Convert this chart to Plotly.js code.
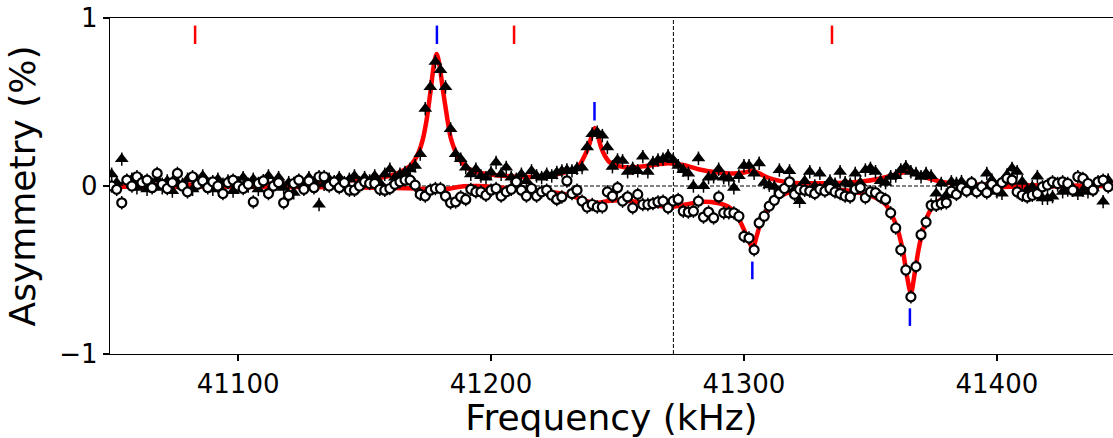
<!DOCTYPE html>
<html>
<head>
<meta charset="utf-8">
<script src="https://cdn.plot.ly/plotly-3.0.1.min.js"></script>
<style>html,body{margin:0;padding:0;background:#fff;}#chart{width:1113px;height:438px;}</style>
</head>
<body>
<div id="chart"></div>
<script>
// Frequencies (kHz) of the measured points
const freq = [
41050,41052,41054,41056,41058,41060,41062,41064,41066,41068,
41070,41072,41074,41076,41078,41080,41082,41084,41086,41088,
41090,41092,41094,41096,41098,41100,41102,41104,41106,41108,
41110,41112,41114,41116,41118,41120,41122,41124,41126,41128,
41130,41132,41134,41136,41138,41140,41142,41144,41146,41148,
41150,41152,41154,41156,41158,41160,41162,41164,41166,41168,
41170,41172,41174,41176,41178,41180,41182,41184,41186,41188,
41190,41192,41194,41196,41198,41200,41202,41204,41206,41208,
41210,41212,41214,41216,41218,41220,41222,41224,41226,41228,
41230,41232,41234,41236,41238,41240,41242,41244,41246,41248,
41250,41252,41254,41256,41258,41260,41262,41264,41266,41268,
41270,41272,41274,41276,41278,41280,41282,41284,41286,41288,
41290,41292,41294,41296,41298,41300,41302,41304,41306,41308,
41310,41312,41314,41316,41318,41320,41322,41324,41326,41328,
41330,41332,41334,41336,41338,41340,41342,41344,41346,41348,
41350,41352,41354,41356,41358,41360,41362,41364,41366,41368,
41370,41372,41374,41376,41378,41380,41382,41384,41386,41388,
41390,41392,41394,41396,41398,41400,41402,41404,41406,41408,
41410,41412,41414,41416,41418,41420,41422,41424,41426,41428,
41430,41432,41434,41436,41438,41440,41442,41444];

// Asymmetry (%) - filled triangles
const triAsym = [
0.07,0.02,0.16,0.03,0.04,-0.01,0.03,-0.02,0.01,0.04,
-0.01,0.03,-0.03,0.02,0.01,0.04,-0.02,0.03,0.06,0.01,
-0.02,0.04,0.01,0.03,-0.03,0.02,0.05,0.00,0.04,-0.02,
0.03,0.06,0.01,0.05,-0.01,0.02,-0.04,0.03,0.00,0.05,
0.02,-0.11,0.01,0.04,0.02,0.05,0.01,0.04,0.06,0.02,
0.05,0.03,0.06,0.02,0.07,0.10,0.05,0.07,0.08,0.10,
0.12,0.19,0.46,0.59,0.74,0.69,0.59,0.34,0.19,0.16,
0.11,0.07,0.10,0.06,0.05,0.08,0.14,0.07,0.11,0.05,
0.04,0.07,0.03,0.09,0.06,0.05,0.07,0.06,0.08,0.09,
0.095,0.09,0.105,0.11,0.23,0.31,0.32,0.30,0.23,0.115,
0.155,0.15,0.085,0.105,0.09,0.175,0.085,0.14,0.155,0.16,
0.18,0.155,0.12,0.095,0.075,0.00,0.165,0.00,0.05,0.055,
0.10,0.05,0.045,-0.01,0.06,0.12,0.12,0.075,0.135,0.02,
0.005,-0.005,0.095,-0.02,0.09,-0.02,-0.09,0.03,0.085,0.00,
0.075,-0.01,0.03,0.01,0.085,0.02,0.01,0.075,0.02,0.095,
0.105,0.085,0.03,0.02,0.055,0.06,0.095,0.115,0.085,0.075,
0.055,0.075,0.06,-0.045,0.015,-0.055,0.025,0.015,0.026,-0.024,
-0.014,-0.024,-0.014,0.075,0.036,-0.034,-0.044,0.065,0.105,0.085,
0.026,-0.024,-0.004,0.056,-0.073,-0.073,-0.063,0.006,-0.034,-0.024,
-0.014,-0.044,-0.024,-0.034,-0.014,0.016,-0.093,0.036];

// Asymmetry (%) - open circles
const circAsym = [
0.00,-0.02,-0.10,0.035,0.00,0.055,0.02,0.035,-0.01,0.075,
0.01,-0.015,0.02,0.075,0.00,-0.035,0.055,0.01,0.03,-0.01,
0.025,0.00,-0.045,0.02,0.035,0.00,-0.015,0.01,-0.095,0.015,
0.03,-0.045,0.00,0.02,-0.10,-0.055,0.015,0.035,-0.02,0.03,
-0.01,0.055,0.055,0.00,0.025,-0.01,0.02,-0.025,-0.025,0.00,
0.025,0.015,0.015,-0.02,-0.025,-0.015,0.01,0.025,0.035,0.035,
0.005,-0.05,-0.06,-0.025,-0.015,-0.015,-0.06,-0.10,-0.095,-0.065,
-0.08,-0.02,-0.035,-0.035,-0.055,-0.025,-0.015,-0.06,-0.035,-0.02,
0.025,-0.025,-0.06,-0.015,-0.06,-0.035,-0.025,-0.055,-0.08,-0.065,
0.03,-0.045,-0.025,-0.09,-0.125,-0.11,-0.125,-0.125,-0.035,-0.06,
-0.01,-0.09,-0.065,-0.13,-0.05,-0.11,-0.11,-0.105,-0.095,-0.09,
-0.13,-0.09,-0.08,-0.15,-0.155,-0.15,-0.09,-0.185,-0.155,-0.19,
-0.065,-0.16,-0.16,-0.16,-0.18,-0.30,-0.31,-0.38,-0.22,-0.18,
-0.12,-0.085,-0.045,-0.015,0.025,-0.05,-0.02,-0.025,-0.03,-0.045,
-0.02,-0.03,-0.015,-0.035,-0.045,-0.06,-0.065,-0.02,-0.01,-0.07,
-0.035,-0.04,-0.065,-0.08,-0.16,-0.25,-0.38,-0.50,-0.66,-0.48,
-0.29,-0.215,-0.115,-0.115,-0.105,-0.10,-0.03,-0.05,-0.01,-0.03,
0.02,-0.035,-0.005,-0.04,0.01,-0.02,0.02,0.045,0.035,-0.035,
-0.055,-0.065,-0.055,-0.045,-0.005,0.005,0.025,0.015,0.025,0.015,
-0.025,0.055,0.045,0.015,-0.025,0.025,0.035,-0.005];

const asymErr = 0.04;

// Fitted curves
const triFitFreq = [41049.35,41080,41110,41130,41145,41155,41160,41163,41166,41168,41170,41171.5,41173,41174.5,41176,41177.5,41178.5,41179.5,41181,41182.5,41184,41185.5,41187,41189,41192,41196,41202,41210,41218,41226,41230,41233,41235,41237,41238.5,41240,41241,41242,41243.5,41245,41247,41250,41255,41262,41270,41276,41282,41290,41296,41300,41303.5,41306,41310,41319,41333,41346,41354,41359,41362,41364.5,41367,41372,41380,41390,41405,41445.9];
const triFitAsym = [0.005,0.008,0.013,0.02,0.034,0.047,0.06,0.075,0.098,0.12,0.16,0.205,0.276,0.39,0.555,0.73,0.785,0.73,0.57,0.42,0.29,0.22,0.17,0.13,0.095,0.078,0.064,0.056,0.055,0.07,0.085,0.10,0.125,0.18,0.23,0.31,0.345,0.315,0.23,0.18,0.14,0.12,0.11,0.12,0.135,0.125,0.10,0.08,0.074,0.08,0.09,0.075,0.047,0.02,0.017,0.026,0.045,0.065,0.078,0.085,0.078,0.05,0.02,0.01,0.005,0.002];
const circFitFreq = [41049.35,41100,41140,41160,41170,41176,41180,41184,41189,41195,41203,41212,41220,41228,41234,41239,41242,41246,41251,41258,41265,41271,41277,41283,41289,41294,41297,41300,41302,41303.5,41305,41307,41310,41314,41320,41330,41340,41347,41352,41356,41359,41361,41363,41364.5,41366,41367.5,41369,41371,41373.5,41377,41383,41392,41405,41445.9];
const circFitAsym = [-0.005,-0.005,-0.008,-0.012,-0.015,-0.02,-0.022,-0.015,-0.002,0.0,-0.008,-0.018,-0.03,-0.045,-0.07,-0.095,-0.10,-0.09,-0.085,-0.095,-0.115,-0.125,-0.11,-0.095,-0.10,-0.125,-0.17,-0.26,-0.33,-0.37,-0.30,-0.20,-0.125,-0.065,-0.03,-0.022,-0.025,-0.045,-0.07,-0.11,-0.19,-0.27,-0.40,-0.54,-0.64,-0.52,-0.38,-0.25,-0.15,-0.09,-0.04,-0.015,-0.005,0.0];

// Marker ticks
const redMarkFreq = [41083, 41209.1, 41334.8];
const redMarkLow = [0.845, 0.845, 0.845];
const redMarkHigh = [0.955, 0.955, 0.955];
const blueMarkFreq = [41178.6, 41240.9, 41303.3, 41365.6];
const blueMarkLow = [0.845, 0.39, -0.555, -0.833];
const blueMarkHigh = [0.955, 0.50, -0.45, -0.728];

const refLineFreq = 41272.1;
const xRange = [41049.35, 41445.9];
const yRange = [-1, 1];
const xTicks = [41100, 41200, 41300, 41400];
const yTicks = [-1, 0, 1];
const yTickText = ['\u22121', '0', '1'];

function segs(fs, lo, hi) {
  const x = [], y = [];
  fs.forEach((f, i) => { x.push(f, f, null); y.push(lo[i], hi[i], null); });
  return {x, y};
}
const rs = segs(redMarkFreq, redMarkLow, redMarkHigh);
const bs = segs(blueMarkFreq, blueMarkLow, blueMarkHigh);

const traces = [
  {x: triFitFreq, y: triFitAsym, mode: 'lines', line: {color: '#ff0000', width: 4.5, shape: 'spline', smoothing: 0.8}, hoverinfo: 'skip'},
  {x: circFitFreq, y: circFitAsym, mode: 'lines', line: {color: '#ff0000', width: 4.5, shape: 'spline', smoothing: 0.8}, hoverinfo: 'skip'},
  {x: freq, y: triAsym, mode: 'markers', marker: {symbol: 'triangle-up', size: 12, color: '#000000', line: {width: 0}},
   error_y: {type: 'constant', value: asymErr, width: 0, thickness: 1.5, color: '#000000'}},
  {x: freq, y: circAsym, mode: 'markers', marker: {symbol: 'circle', size: 9, color: '#ffffff', line: {width: 2.2, color: '#000000'}},
   error_y: {type: 'constant', value: asymErr, width: 0, thickness: 1.5, color: '#000000'}},
  {x: rs.x, y: rs.y, mode: 'lines', line: {color: '#ff0000', width: 2.5}, hoverinfo: 'skip'},
  {x: bs.x, y: bs.y, mode: 'lines', line: {color: '#0000ff', width: 2.5}, hoverinfo: 'skip'}
];

const layout = {
  width: 1113, height: 438,
  margin: {l: 110, r: 0, t: 18, b: 84, pad: 0},
  paper_bgcolor: '#ffffff', plot_bgcolor: '#ffffff',
  showlegend: false,
  font: {family: 'DejaVu Sans, sans-serif', color: '#000000'},
  xaxis: {
    range: xRange, tickvals: xTicks, ticktext: xTicks.map(String),
    showgrid: false, zeroline: false, showline: true, linecolor: '#000000', linewidth: 1.3, mirror: true,
    ticks: 'outside', ticklen: 6, tickwidth: 1.3, tickcolor: '#000000',
    tickfont: {size: 26, family: 'DejaVu Sans', color: '#000000'},
    title: {text: 'Frequency (kHz)', font: {size: 36, family: 'DejaVu Sans', color: '#000000'}, standoff: 5}
  },
  yaxis: {
    range: yRange, tickvals: yTicks, ticktext: yTickText,
    showgrid: false, zeroline: false, showline: true, linecolor: '#000000', linewidth: 1.3,
    ticks: 'outside', ticklen: 6, tickwidth: 1.3, tickcolor: '#000000',
    tickfont: {size: 26, family: 'DejaVu Sans', color: '#000000'},
    title: {text: 'Asymmetry (%)', font: {size: 36, family: 'DejaVu Sans', color: '#000000'}, standoff: 12}
  },
  shapes: [
    {type: 'line', xref: 'paper', x0: 0, x1: 1, yref: 'y', y0: 0, y1: 0, line: {color: '#000000', width: 1, dash: '4px,2px'}, layer: 'below'},
    {type: 'line', xref: 'x', x0: refLineFreq, x1: refLineFreq, yref: 'paper', y0: 0, y1: 1, line: {color: '#000000', width: 1, dash: '4px,2px'}, layer: 'below'}
  ]
};

Plotly.newPlot('chart', traces, layout, {displayModeBar: false, staticPlot: true});
</script>
</body>
</html>
